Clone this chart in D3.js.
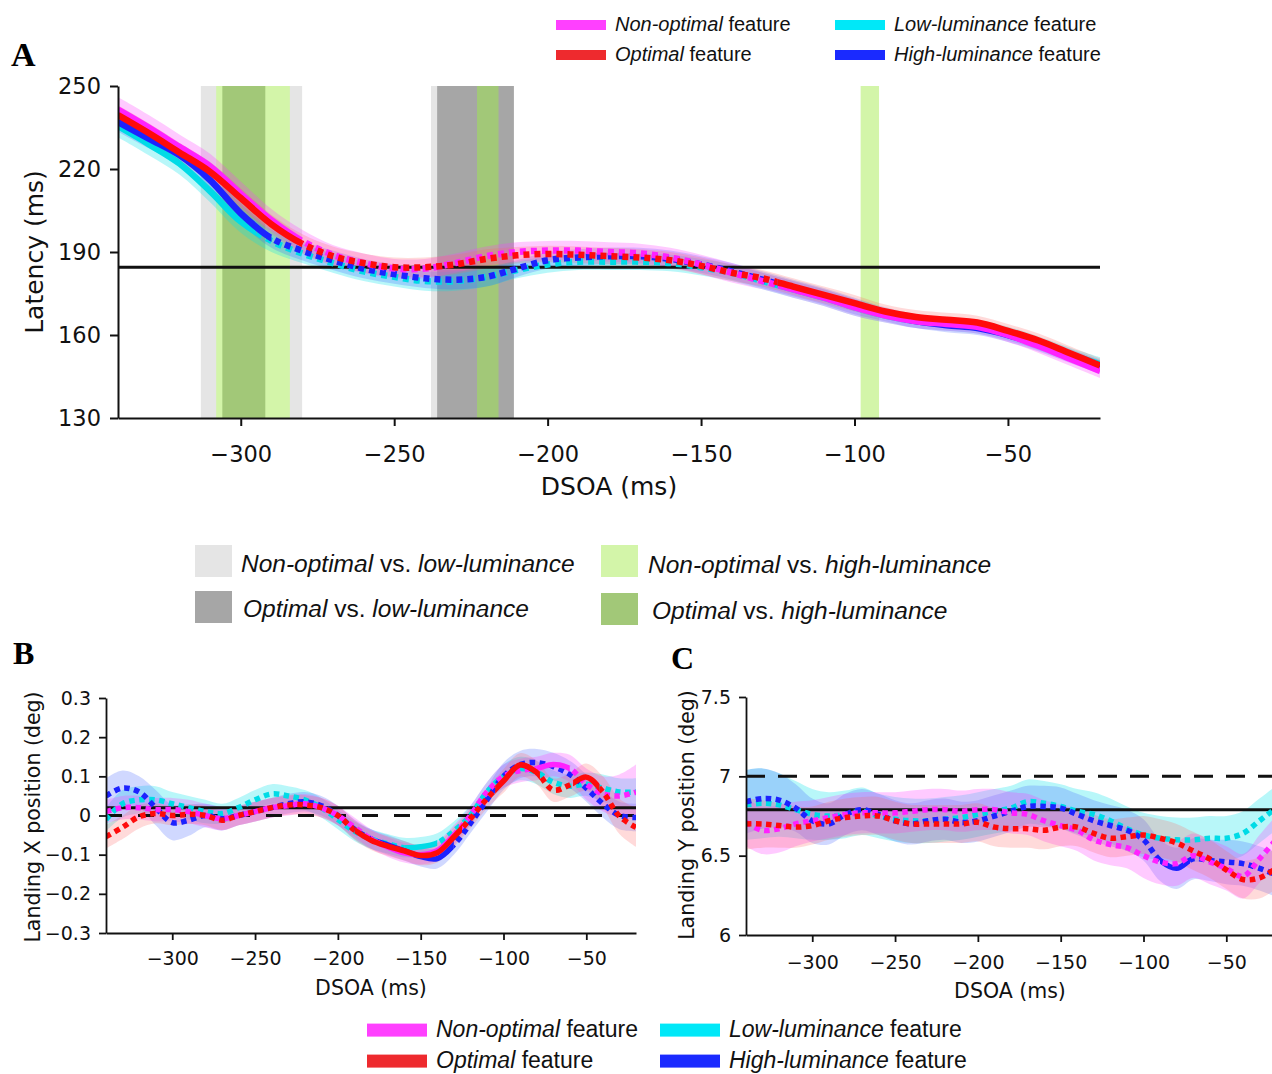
<!DOCTYPE html>
<html><head><meta charset="utf-8">
<script src="https://cdn.jsdelivr.net/npm/d3@7"></script>
<style>body{margin:0;background:#fff}svg{display:block}</style>
</head><body>
<svg id="chart" width="1272" height="1074"></svg>
<script>
// ---------- DATA ----------
const dsoa = [-340,-330,-320,-310,-300,-290,-280,-270,-260,-250,-240,-230,-220,-210,-200,-190,-180,-170,-160,-150,-140,-130,-120,-110,-100,-90,-80,-70,-60,-50,-40,-30,-20];
const dsoaTicks = [-300,-250,-200,-150,-100,-50];

// Panel A: latency (ms)
const latNonOptimal = [241.5,235,228,221,211,201.5,194,189,186,184,184,186,188.5,190,190.5,190.5,190,189.5,188,185.5,182.5,179.5,176.5,173.5,170,167,165,164,163,160,156,151.5,147];
const latOptimal    = [239.5,233,226,219,209.5,200,193,188.5,186,184.5,184.5,185.5,187.5,188.8,189.3,189,188.5,188,187,185,182.5,180.5,177.5,174.5,171.5,168.5,166.5,165.5,164.5,161.5,158,153.5,149];
const latLow        = [235.5,229,222,212,201,194,189.5,186,183,181,179.5,179.5,181,183.5,185.5,186.5,186.5,186.5,186,184.5,182.5,179.5,176.5,173.5,170,167,165,164,163,160.5,157,153,149.5];
const latHigh       = [237,231,225,216,204,195,190.5,187,184,182,180.5,180,181,184,187,188,188.5,188.5,187.5,185.5,183,180,177,174,170.5,167.5,165,163.5,162.5,160,156.5,152.5,148.5];
const latCINonOptimal = [4.5,4.5,4.5,4.5,4.5,4,4,3.5,3.5,3.5,3.5,3.5,3.5,3.5,3.5,3.5,3.5,3.5,3.5,3.5,3.5,3,3,3,3,2.5,2.5,2.5,2.5,2.5,2.5,2.5,2.5];
const latCIOptimal    = [3.5,3.5,3.5,3.5,3.5,3.5,3.5,3.5,3.5,3.5,3.5,3.5,3.5,3,3,3,3,3,3,3,3,3,3,3,3,2.5,2.5,2.5,2.5,2.5,2.5,2.5,2.5];
const latCILow        = [4,4,4,4,4,4,3.5,3.5,3.5,3.5,3.5,3.5,3.5,3,3,3,3,3,3,3,3,3,3,3,3,2.5,2.5,2.5,2.5,2.5,2.5,2.5,2.5];
const latCIHigh       = [3.5,3.5,3.5,3.5,3.5,3.5,3.5,3.5,3.5,3.5,3.5,3.5,3.5,3,3,3,3,3,3,3,3,3,3,3,3,2.5,2.5,2.5,2.5,2.5,2.5,2.5,2.5];
const latBaseline = 184.5;
const latTicks = [130,160,190,220,250];
// significance bands (ms ranges)
const sigNonOptLow  = [[-313,-280],[-238,-211]];
const sigOptLow     = [[-236,-211]];
const sigNonOptHigh = [[-308,-284],[-98,-92]];
const sigOptHigh    = [[-306,-292],[-223,-216]];
// solid (significant) line segments in panel A
const solidANonOptimal = [[-340,-280],[-125,-20]];
const solidAOptimal    = [[-340,-280],[-125,-20]];
const solidALow        = [[-340,-295],[-125,-20]];
const solidAHigh       = [[-340,-290],[-125,-20]];

// Panel B: landing X position (deg)
const xNonOptimal = [0.01,0.02,0.02,0.015,0.015,0.01,0.0,-0.008,0.0,0.01,0.02,0.025,0.03,0.02,0.0,-0.03,-0.06,-0.08,-0.095,-0.1,-0.09,-0.05,0.0,0.06,0.1,0.115,0.12,0.13,0.12,0.08,0.055,0.05,0.06];
const xOptimal    = [-0.054,-0.03,-0.003,0.005,0.0,0.003,0.0,-0.012,0.0,0.01,0.02,0.027,0.027,0.02,0.0,-0.037,-0.063,-0.078,-0.09,-0.102,-0.095,-0.055,-0.008,0.043,0.088,0.129,0.11,0.065,0.078,0.098,0.06,-0.002,-0.03];
const xLow        = [-0.01,0.03,0.04,0.04,0.03,0.02,0.01,0.005,0.02,0.04,0.055,0.05,0.04,0.02,-0.01,-0.04,-0.06,-0.072,-0.082,-0.08,-0.07,-0.04,0.0,0.06,0.1,0.12,0.11,0.085,0.075,0.08,0.07,0.06,0.06];
const xHigh       = [0.05,0.07,0.06,0.02,-0.018,-0.012,0.0,-0.008,0.0,0.01,0.02,0.03,0.035,0.025,0.0,-0.035,-0.06,-0.075,-0.09,-0.105,-0.11,-0.075,-0.02,0.04,0.1,0.13,0.135,0.125,0.105,0.07,0.03,0.0,-0.005];
const xCINonOptimal = [0.03,0.03,0.03,0.03,0.03,0.03,0.03,0.03,0.025,0.025,0.025,0.025,0.025,0.025,0.025,0.025,0.025,0.025,0.025,0.025,0.025,0.025,0.025,0.025,0.03,0.03,0.03,0.03,0.035,0.04,0.045,0.055,0.07];
const xCIOptimal    = [0.03,0.03,0.03,0.025,0.025,0.025,0.025,0.025,0.025,0.025,0.025,0.025,0.025,0.025,0.025,0.025,0.025,0.025,0.025,0.025,0.025,0.025,0.025,0.025,0.03,0.03,0.03,0.03,0.03,0.035,0.04,0.045,0.05];
const xCILow        = [0.03,0.035,0.035,0.035,0.03,0.03,0.03,0.025,0.025,0.025,0.025,0.025,0.025,0.025,0.025,0.025,0.025,0.025,0.025,0.025,0.025,0.025,0.025,0.025,0.03,0.03,0.03,0.03,0.03,0.03,0.035,0.035,0.035];
const xCIHigh       = [0.045,0.045,0.04,0.045,0.045,0.04,0.03,0.03,0.025,0.025,0.025,0.025,0.025,0.025,0.025,0.025,0.025,0.025,0.025,0.025,0.025,0.025,0.025,0.03,0.035,0.035,0.035,0.035,0.035,0.035,0.035,0.035,0.035];
const xBaseline = 0.02;
const xReference = 0;
const xTicks = [-0.3,-0.2,-0.1,0,0.1,0.2,0.3];
const solidBNonOptimal = [[-180,-130],[-80,-60]];
const solidBOptimal    = [[-190,-125],[-105,-78],[-58,-42]];
const solidBLow        = [[-160,-140]];
const solidBHigh       = [[-175,-130]];

// Panel C: landing Y position (deg)
const yNonOptimal = [6.71,6.66,6.67,6.70,6.72,6.74,6.76,6.77,6.77,6.77,6.78,6.79,6.79,6.78,6.79,6.79,6.77,6.76,6.72,6.69,6.66,6.60,6.57,6.55,6.50,6.46,6.45,6.50,6.46,6.42,6.37,6.48,6.60];
const yOptimal    = [6.70,6.70,6.69,6.68,6.69,6.72,6.74,6.75,6.75,6.72,6.70,6.70,6.70,6.70,6.71,6.68,6.67,6.67,6.66,6.68,6.68,6.64,6.61,6.62,6.63,6.61,6.58,6.53,6.48,6.41,6.35,6.36,6.42];
const yLow        = [6.82,6.83,6.82,6.79,6.76,6.75,6.76,6.78,6.75,6.73,6.72,6.72,6.73,6.74,6.76,6.78,6.80,6.84,6.83,6.81,6.78,6.76,6.72,6.67,6.63,6.61,6.60,6.60,6.61,6.61,6.64,6.72,6.80];
const yHigh       = [6.84,6.86,6.85,6.80,6.72,6.70,6.76,6.79,6.76,6.72,6.70,6.72,6.73,6.71,6.72,6.75,6.78,6.81,6.81,6.80,6.76,6.72,6.69,6.66,6.60,6.47,6.42,6.48,6.47,6.46,6.45,6.42,6.38];
const yCINonOptimal = [0.15,0.15,0.15,0.14,0.13,0.13,0.13,0.13,0.13,0.13,0.13,0.13,0.13,0.13,0.13,0.13,0.13,0.13,0.13,0.13,0.13,0.13,0.13,0.13,0.14,0.14,0.14,0.14,0.14,0.14,0.14,0.15,0.15];
const yCIOptimal    = [0.16,0.15,0.14,0.13,0.12,0.12,0.12,0.12,0.12,0.12,0.12,0.12,0.12,0.12,0.12,0.12,0.12,0.12,0.12,0.12,0.12,0.12,0.12,0.12,0.12,0.12,0.12,0.12,0.12,0.12,0.12,0.13,0.13];
const yCILow        = [0.22,0.22,0.2,0.18,0.16,0.15,0.15,0.15,0.14,0.14,0.14,0.14,0.14,0.14,0.14,0.14,0.14,0.14,0.14,0.14,0.14,0.14,0.14,0.14,0.14,0.14,0.14,0.14,0.14,0.14,0.14,0.14,0.14];
const yCIHigh       = [0.2,0.19,0.17,0.15,0.14,0.13,0.13,0.13,0.13,0.13,0.13,0.13,0.13,0.13,0.13,0.13,0.13,0.13,0.13,0.13,0.13,0.13,0.13,0.13,0.13,0.13,0.13,0.13,0.13,0.14,0.14,0.14,0.14];
const yBaseline = 6.79;
const yReference = 7;
const yTicks = [6,6.5,7,7.5];
const solidCNonOptimal = [];
const solidCOptimal    = [];
const solidCLow        = [];
const solidCHigh       = [[-90,-72]];

// Legends
const featureLabels = [["Non-optimal"," feature"],["Optimal"," feature"],["Low-luminance"," feature"],["High-luminance"," feature"]];
const sigLabels = [["Non-optimal"," vs. ","low-luminance"],["Optimal"," vs. ","low-luminance"],["Non-optimal"," vs. ","high-luminance"],["Optimal"," vs. ","high-luminance"]];

// ---------- STYLE ----------
const lineColor = {nonOptimal:"#ff22ff", optimal:"#ff0a0a", low:"#00dbe6", high:"#1c22ff"};
const bandColor = {nonOptimal:"rgba(255,60,255,0.27)", optimal:"rgba(255,100,100,0.24)", low:"rgba(0,225,235,0.28)", high:"rgba(60,90,255,0.24)"};
const swatchColor = ["#ff40ff","#ee2a2e","#00e8f8","#1a2aff"];
const sigColor = {nonOptLow:"#e5e5e5", optLow:"#a6a6a6", nonOptHigh:"#d3f5a9", optHigh:"#a2c878"};
const tickFmt = v => (v<0?"\u2212":"") + Math.abs(v);

const svg = d3.select("#chart");
svg.append("rect").attr("width",1272).attr("height",1074).attr("fill","#fff");
const defs = svg.append("defs");
let clipId = 0;

function makeClip(x, ranges, top, bottom) {
  const id = "clip" + (clipId++);
  const cp = defs.append("clipPath").attr("id", id);
  ranges.forEach(r => cp.append("rect").attr("x", x(r[0])).attr("width", x(r[1]) - x(r[0]))
    .attr("y", top - 40).attr("height", bottom - top + 80));
  return id;
}
function complement(domain, ranges) {
  const out = []; let s = domain[0];
  ranges.slice().sort((a,b)=>a[0]-b[0]).forEach(r => { if (r[0] > s) out.push([s, r[0]]); s = Math.max(s, r[1]); });
  if (s < domain[1]) out.push([s, domain[1]]);
  return out;
}

function panel(cfg) {
  const x = d3.scaleLinear().domain([-340,-20]).range(cfg.xr);
  const y = d3.scaleLinear().domain(cfg.yd).range(cfg.yr);
  const g = svg.append("g");
  const top = cfg.yr[1], bottom = cfg.yr[0];
  if (cfg.sig) {
    cfg.sig.forEach(s => s.ranges.forEach(r => g.append("rect")
      .attr("x", x(r[0])).attr("width", x(r[1]) - x(r[0]))
      .attr("y", top).attr("height", bottom - top).attr("fill", s.color)));
  }
  const curve = d3.curveCatmullRom.alpha(0.5);
  cfg.series.forEach(s => {
    const area = d3.area().curve(curve).x((d,i)=>x(dsoa[i]))
      .y0((d,i)=>y(d - s.ci[i])).y1((d,i)=>y(d + s.ci[i]));
    g.append("path").attr("d", area(s.values)).attr("fill", s.band);
  });
  if (cfg.refDashed !== undefined) {
    g.append("line").attr("x1", cfg.xr[0]).attr("x2", cfg.xr[1]).attr("y1", y(cfg.refDashed)).attr("y2", y(cfg.refDashed))
      .attr("stroke","#111").attr("stroke-width",3).attr("stroke-dasharray", cfg.refDash);
  }
  g.append("line").attr("x1", cfg.xr[0]).attr("x2", cfg.xr[1]).attr("y1", y(cfg.base)).attr("y2", y(cfg.base))
    .attr("stroke","#111").attr("stroke-width", cfg.baseW);
  cfg.series.forEach(s => {
    const line = d3.line().curve(curve).x((d,i)=>x(dsoa[i])).y(d=>y(d));
    const dStr = line(s.values);
    const solidClip = makeClip(x, s.solid, top, bottom);
    const dotClip = makeClip(x, complement([-340,-20], s.solid), top, bottom);
    g.append("path").attr("d", dStr).attr("fill","none").attr("stroke", s.color)
      .attr("stroke-width", cfg.lw).attr("stroke-dasharray", cfg.dash).attr("clip-path", `url(#${dotClip})`);
    if (s.solid.length) g.append("path").attr("d", dStr).attr("fill","none").attr("stroke", s.color)
      .attr("stroke-width", cfg.lw).attr("stroke-linejoin","round").attr("clip-path", `url(#${solidClip})`);
  });
  const ax = g.append("g").attr("transform", `translate(0,${bottom})`)
    .call(d3.axisBottom(x).tickValues(dsoaTicks).tickFormat(tickFmt).tickSize(cfg.tick).tickSizeOuter(0).tickPadding(cfg.xPad));
  const ay = g.append("g").attr("transform", `translate(${cfg.xr[0]},0)`)
    .call(d3.axisLeft(y).tickValues(cfg.yTicks).tickFormat(tickFmt).tickSize(cfg.tick).tickSizeOuter(0).tickPadding(cfg.yPad));
  [ax, ay].forEach(a => {
    a.selectAll("path,line").attr("stroke","#111").attr("stroke-width", cfg.axW);
    a.selectAll("text").attr("font-family","DejaVu Sans").attr("font-size", cfg.tickFont).attr("fill","#111");
  });
  g.append("text").attr("x", cfg.xTitle[0]).attr("y", cfg.xTitle[1]).attr("text-anchor","middle")
    .attr("font-family","DejaVu Sans").attr("font-size", cfg.titleFont).attr("fill","#111").text("DSOA (ms)");
  g.append("text").attr("transform", `translate(${cfg.yTitle[0]},${cfg.yTitle[1]}) rotate(-90)`).attr("text-anchor","middle")
    .attr("font-family","DejaVu Sans").attr("font-size", cfg.titleFont).attr("fill","#111").text(cfg.yLabel);
  g.append("text").attr("x", cfg.letter[0]).attr("y", cfg.letter[1]).attr("font-family","Liberation Serif")
    .attr("font-weight","bold").attr("font-size", cfg.letterSize).attr("fill","#000").text(cfg.letterText);
}

function seriesOf(nonOpt, opt, low, high, ciN, ciO, ciL, ciH, sN, sO, sL, sH) {
  return [
    {values: low, ci: ciL, solid: sL, color: lineColor.low, band: bandColor.low},
    {values: high, ci: ciH, solid: sH, color: lineColor.high, band: bandColor.high},
    {values: nonOpt, ci: ciN, solid: sN, color: lineColor.nonOptimal, band: bandColor.nonOptimal},
    {values: opt, ci: ciO, solid: sO, color: lineColor.optimal, band: bandColor.optimal}
  ];
}

panel({
  xr:[118,1100], yd:[130,250], yr:[418,86], yTicks: latTicks,
  sig:[{ranges:sigNonOptLow,color:sigColor.nonOptLow},{ranges:sigOptLow,color:sigColor.optLow},
       {ranges:sigNonOptHigh,color:sigColor.nonOptHigh},{ranges:sigOptHigh,color:sigColor.optHigh}],
  series: seriesOf(latNonOptimal, latOptimal, latLow, latHigh, latCINonOptimal, latCIOptimal, latCILow, latCIHigh,
                   solidANonOptimal, solidAOptimal, solidALow, solidAHigh),
  base: latBaseline, baseW: 3, lw: 6.5, dash: "6,5",
  tick: 8, xPad: 20, yPad: 9, axW: 2, tickFont: "22.5px", titleFont: "25px",
  xTitle:[609,495], yTitle:[43,252], yLabel:"Latency (ms)",
  letter:[11,66], letterSize:"34px", letterText:"A"
});
panel({
  xr:[106,636], yd:[-0.3,0.3], yr:[933,698], yTicks: xTicks,
  series: seriesOf(xNonOptimal, xOptimal, xLow, xHigh, xCINonOptimal, xCIOptimal, xCILow, xCIHigh,
                   solidBNonOptimal, solidBOptimal, solidBLow, solidBHigh),
  base: xBaseline, baseW: 3, refDashed: xReference, refDash: "16,16", lw: 5.5, dash: "5.5,4.5",
  tick: 7, xPad: 12, yPad: 8, axW: 1.8, tickFont: "19px", titleFont: "20.5px",
  xTitle:[371,995], yTitle:[40,817], yLabel:"Landing X position (deg)",
  letter:[13,664], letterSize:"32px", letterText:"B"
});
panel({
  xr:[746,1276], yd:[6,7.5], yr:[935,697], yTicks: yTicks,
  series: seriesOf(yNonOptimal, yOptimal, yLow, yHigh, yCINonOptimal, yCIOptimal, yCILow, yCIHigh,
                   solidCNonOptimal, solidCOptimal, solidCLow, solidCHigh),
  base: yBaseline, baseW: 3, refDashed: yReference, refDash: "19,13", lw: 5.5, dash: "5.5,4.5",
  tick: 7, xPad: 14, yPad: 8, axW: 1.8, tickFont: "19px", titleFont: "20.5px",
  xTitle:[1010,998], yTitle:[694,815], yLabel:"Landing Y position (deg)",
  letter:[671,669], letterSize:"32px", letterText:"C"
});

function featureLegend(pos, swW, swH, font) {
  featureLabels.forEach((lab, i) => {
    const p = pos[i];
    svg.append("rect").attr("x", p[0]).attr("y", p[1] - swH/2 - font*0.3).attr("width", swW).attr("height", swH).attr("fill", swatchColor[i]);
    const t = svg.append("text").attr("x", p[0] + swW + 9).attr("y", p[1]).attr("font-family","Liberation Sans, Arial")
      .attr("font-size", font + "px").attr("fill","#111");
    t.append("tspan").attr("font-style","italic").text(lab[0]);
    t.append("tspan").text(lab[1]);
  });
}
featureLegend([[556,31],[556,61],[835,31],[835,61]], 50, 10, 20);
featureLegend([[367,1037],[367,1068],[660,1037],[660,1068]], 60, 13, 23);

const sigPos = [[195,545,241,572],[195,591,243,617],[601,545,648,573],[601,593,652,619]];
const sigCols = [sigColor.nonOptLow, sigColor.optLow, sigColor.nonOptHigh, sigColor.optHigh];
sigLabels.forEach((lab, i) => {
  const p = sigPos[i];
  svg.append("rect").attr("x", p[0]).attr("y", p[1]).attr("width", 37).attr("height", 32).attr("fill", sigCols[i]);
  const t = svg.append("text").attr("x", p[2]).attr("y", p[3]).attr("font-family","Liberation Sans, Arial")
    .attr("font-size","24.5px").attr("fill","#111");
  t.append("tspan").attr("font-style","italic").text(lab[0]);
  t.append("tspan").text(lab[1]);
  t.append("tspan").attr("font-style","italic").text(lab[2]);
});
</script>
</body></html>
